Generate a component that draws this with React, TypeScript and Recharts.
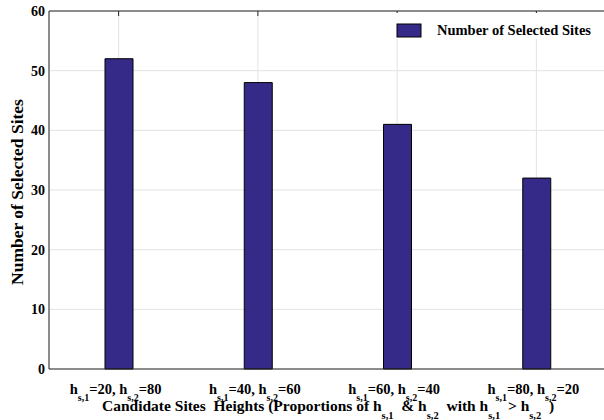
import { BarChart, Bar, XAxis, YAxis, CartesianGrid, Legend } from 'recharts';

const h1Values = [20, 40, 60, 80];
const h2Values = [80, 60, 40, 20];
const selectedSites = [52, 48, 41, 32];
const yTicks = [0, 10, 20, 30, 40, 50, 60];

const data = h1Values.map((h1, i) => ({
  name: `${h1},${h2Values[i]}`,
  h1,
  h2: h2Values[i],
  sites: selectedSites[i],
}));

const FONT = '"Liberation Serif", "Times New Roman", serif';
const BAR_COLOR = '#352a87';
const AXIS_COLOR = '#262626';
const SUB = 10;
const DROP = 7;
const GAP = '\u00a0\u00a0';

const HeightTick = (props: any) => {
  const { x, y, payload } = props;
  const item = data[payload.index] || data.find((d) => d.name === payload.value);
  return (
    <text x={x - 3} y={y + 17} textAnchor="middle" fontFamily={FONT} fontWeight="bold" fontSize={14.5} fill="#000">
      <tspan>h</tspan>
      <tspan dy={DROP} fontSize={SUB}>s,1</tspan>
      <tspan dy={-DROP}>{`=${item.h1}, h`}</tspan>
      <tspan dy={DROP} fontSize={SUB}>s,2</tspan>
      <tspan dy={-DROP}>{`=${item.h2}`}</tspan>
    </text>
  );
};

// axis title under the tick labels
const XTitle = () => (
  <text x={102} y={411} textAnchor="start" fontFamily={FONT} fontWeight="bold" fontSize={15.5} fill="#000">
    <tspan>{'Candidate Sites\u00a0 Heights (Proportions of h'}</tspan>
    <tspan dy={DROP + 1} fontSize={SUB + 0.5}>s,1</tspan>
    <tspan dy={-DROP - 1}>{GAP + '& h'}</tspan>
    <tspan dy={DROP + 1} fontSize={SUB + 0.5}>s,2</tspan>
    <tspan dy={-DROP - 1}>{GAP + 'with h'}</tspan>
    <tspan dy={DROP + 1} fontSize={SUB + 0.5}>s,1</tspan>
    <tspan dy={-DROP - 1}>{GAP + '> h'}</tspan>
    <tspan dy={DROP + 1} fontSize={SUB + 0.5}>s,2</tspan>
    <tspan dy={-DROP - 1}>{GAP + ')'}</tspan>
  </text>
);

const YTitle = () => {
  const cx = 23;
  const cy = 192;
  return (
    <text
      x={cx}
      y={cy}
      transform={`rotate(-90, ${cx}, ${cy})`}
      textAnchor="middle"
      fontFamily={FONT}
      fontWeight="bold"
      fontSize={17.5}
      fill="#000"
    >
      Number of Selected Sites
    </text>
  );
};

const LegendBox = () => (
  <svg width={214} height={26}>
    <rect x={7} y={11} width={24} height={13} fill={BAR_COLOR} stroke="#000" strokeWidth={1} />
    <text x={47} y={22} fontFamily={FONT} fontWeight="bold" fontSize={14.5} fill="#000">
      Number of Selected Sites
    </text>
  </svg>
);

const App = () => {
  return (
    <div style={{ position: 'absolute', left: 0, top: 0, width: 604, height: 420, overflow: 'hidden', background: '#fff' }}>
      <BarChart width={612} height={420} data={data} margin={{ top: 11, right: 6, bottom: 1, left: 0 }}>
        <CartesianGrid stroke="#e3e3e3" strokeWidth={1} />
        <XAxis
          dataKey="name"
          height={50}
          tick={<HeightTick />}
          tickLine={false}
          axisLine={{ stroke: AXIS_COLOR }}
          interval={0}
          label={{ content: <XTitle /> }}
        />
        <XAxis
          xAxisId="top"
          dataKey="name"
          orientation="top"
          height={1}
          mirror
          tickSize={5}
          tickFormatter={() => ''}
          tickLine={{ stroke: AXIS_COLOR }}
          axisLine={{ stroke: AXIS_COLOR }}
          interval={0}
        />
        <YAxis
          width={49}
          domain={[0, 60]}
          ticks={yTicks}
          interval={0}
          tickLine={false}
          tickSize={0}
          tickMargin={4}
          axisLine={{ stroke: AXIS_COLOR }}
          tick={{ fontFamily: FONT, fontWeight: 'bold', fontSize: 14, fill: '#000' }}
          label={{ content: <YTitle /> }}
        />
        <YAxis
          yAxisId="right"
          orientation="right"
          width={1}
          mirror
          domain={[0, 60]}
          ticks={yTicks}
          tickSize={5}
          tickFormatter={() => ''}
          tickLine={{ stroke: AXIS_COLOR }}
          axisLine={{ stroke: AXIS_COLOR }}
        />
        <Legend
          layout="vertical"
          align="center"
          verticalAlign="middle"
          content={<LegendBox />}
          wrapperStyle={{ position: 'absolute', left: 390, top: 13, width: 214, height: 26, background: '#fff' }}
        />
        <Bar dataKey="sites" fill={BAR_COLOR} stroke="#000" strokeWidth={1} barSize={28} isAnimationActive={false} />
      </BarChart>
    </div>
  );
};

export default App;
